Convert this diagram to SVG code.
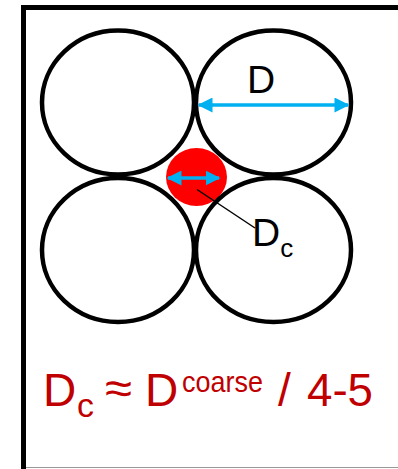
<svg xmlns="http://www.w3.org/2000/svg" width="398" height="469" viewBox="0 0 398 469">
<style>
.c{fill:none;stroke:#000;stroke-width:4.5}
.arr{stroke:#00B0F0;stroke-width:3.5;fill:none}
.lbl{font-family:"Liberation Sans",Arial,sans-serif;fill:#000}
.red{font-family:"Liberation Sans",Arial,sans-serif;fill:#C00000}
</style>
<defs>
<marker id="ah" viewBox="0 0 10 10" refX="9" refY="5" markerWidth="17" markerHeight="15" markerUnits="userSpaceOnUse" orient="auto-start-reverse">
<path d="M0,0 L10,5 L0,10 z" fill="#00B0F0"/>
</marker>
<marker id="ahs" viewBox="0 0 10 10" refX="9" refY="5" markerWidth="15" markerHeight="15" markerUnits="userSpaceOnUse" orient="auto-start-reverse">
<path d="M0,0 L10,5 L0,10 z" fill="#00B0F0"/>
</marker>
</defs>
<g id="frame">
<path d="M23.5,472 V7.5 H402" fill="none" stroke="#000" stroke-width="5"/>
<line x1="26" y1="467.5" x2="398" y2="467.5" stroke="#999" stroke-width="1"/>
</g>
<g id="red-pore"><ellipse cx="196.5" cy="177" rx="30.5" ry="29" fill="#FF0000"/></g>
<g id="circle-tl"><ellipse class="c" cx="118" cy="102.5" rx="76" ry="72"/></g>
<g id="circle-tr"><ellipse class="c" cx="273.5" cy="102.5" rx="77.5" ry="72"/></g>
<g id="circle-bl"><ellipse class="c" cx="118" cy="250" rx="76" ry="72"/></g>
<g id="circle-br"><ellipse class="c" cx="273.5" cy="250" rx="77.5" ry="72"/></g>
<g id="connectors">
<line class="arr" x1="199" y1="105" x2="348" y2="105" marker-start="url(#ah)" marker-end="url(#ah)"/>
<line class="arr" x1="168" y1="178" x2="219" y2="178" marker-start="url(#ahs)" marker-end="url(#ahs)"/>
<line x1="197" y1="189.5" x2="255" y2="228" stroke="#000" stroke-width="1.5"/>
</g>
<g id="label-D"><text class="lbl" x="247" y="93" font-size="39">D</text></g>
<g id="label-Dc"><text class="lbl" x="252" y="246" font-size="39">D<tspan font-size="26" dy="11">c</tspan></text></g>
<g id="formula">
<text class="red" x="43" y="406" font-size="46">D</text>
<text class="red" x="77" y="417" font-size="34">c</text>
<text class="red" x="105" y="404" font-size="46" textLength="27" lengthAdjust="spacingAndGlyphs">≈</text>
<text class="red" x="145" y="406" font-size="46">D</text>
<text class="red" x="182" y="392" font-size="29" textLength="81" lengthAdjust="spacingAndGlyphs">coarse</text>
<text class="red" x="278" y="406" font-size="46">/</text>
<text class="red" x="307" y="406" font-size="46" textLength="66" lengthAdjust="spacingAndGlyphs">4-5</text>
</g>
</svg>
